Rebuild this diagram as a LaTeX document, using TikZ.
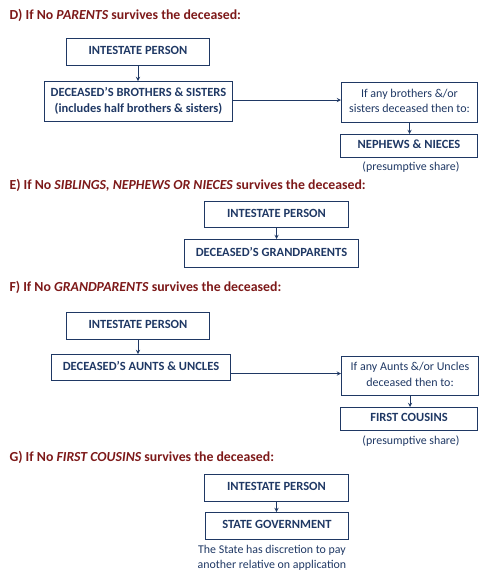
\documentclass[tikz,border=0pt]{standalone}
\usepackage{fontspec}
\setmainfont{Carlito}
\definecolor{navy}{RGB}{31,56,100}
\definecolor{darkred}{RGB}{125,25,25}
\begin{document}
\begin{tikzpicture}[x=1pt, y=-1pt, >=stealth,
  box/.style={draw=navy, line width=1pt, text=navy, inner sep=0pt, text depth=3pt, align=center, anchor=north west,
    font=\bfseries\fontsize{12.5}{16.5}\selectfont},
  ask/.style={box, font=\fontsize{12}{15.5}\selectfont},
  note/.style={text=navy, align=center, font=\fontsize{11.9}{15}\selectfont},
  head/.style={text=darkred, anchor=west, font=\bfseries\fontsize{13.8}{15}\selectfont},
  link/.style={->, draw=navy, line width=0.9pt}]
  \useasboundingbox (0,0) rectangle (488,584);
  % D) no parents
  \node[head] (hD) at (6,15) {D) If No \textit{PARENTS} survives the deceased:};
  \node[box, minimum width=143, minimum height=27] (iD) at (66,38) {INTESTATE PERSON};
  \node[box, minimum width=188, minimum height=40] (sD) at (44,81) {DECEASED'S BROTHERS \& SISTERS\\(includes half brothers \& sisters)};
  \node[ask, minimum width=136, minimum height=40] (qD) at (341,82) {If any brothers \&/or\\sisters deceased then to:};
  \node[box, minimum width=137, minimum height=23] (nD) at (340,134) {NEPHEWS \& NIECES};
  \node[note] (pD) at (411,167) {(presumptive share)};
  \draw[link] (iD.south) -- (iD.south |- sD.north);
  \draw[link] ([yshift=2.5]qD.west -| sD.east) -- ([yshift=2.5]qD.west);
  \draw[link] (qD.south) -- (qD.south |- nD.north);
  % E) no siblings
  \node[head] (hE) at (6,185) {E) If No \textit{SIBLINGS, NEPHEWS OR NIECES} survives the deceased:};
  \node[box, minimum width=144, minimum height=26] (iE) at (204,201) {INTESTATE PERSON};
  \node[box, minimum width=174, minimum height=28] (gE) at (184,239) {DECEASED'S GRANDPARENTS};
  \draw[link] (iE.south) -- (iE.south |- gE.north);
  % F) no grandparents
  \node[head] (hF) at (6,287) {F) If No \textit{GRANDPARENTS} survives the deceased:};
  \node[box, minimum width=143, minimum height=27] (iF) at (66,312) {INTESTATE PERSON};
  \node[box, minimum width=179, minimum height=26] (aF) at (51,354) {DECEASED'S AUNTS \& UNCLES};
  \node[ask, minimum width=137, minimum height=39] (qF) at (341,356) {If any Aunts \&/or Uncles\\deceased then to:};
  \node[box, minimum width=137, minimum height=23] (cF) at (340,407) {FIRST COUSINS};
  \node[note] (pF) at (411,441) {(presumptive share)};
  \draw[link] (iF.south) -- (iF.south |- aF.north);
  \draw[link] ([yshift=2.5]qF.west -| aF.east) -- ([yshift=2.5]qF.west);
  \draw[link] (qF.south) -- (qF.south |- cF.north);
  % G) no first cousins
  \node[head] (hG) at (6,457) {G) If No \textit{FIRST COUSINS} survives the deceased:};
  \node[box, minimum width=144, minimum height=27] (iG) at (204,474) {INTESTATE PERSON};
  \node[box, minimum width=143, minimum height=27] (sG) at (205,512) {STATE GOVERNMENT};
  \node[note] (tG) at (272,557.5) {The State has discretion to pay\\another relative on application};
  \draw[link] (iG.south) -- (iG.south |- sG.north);
\end{tikzpicture}
\end{document}
